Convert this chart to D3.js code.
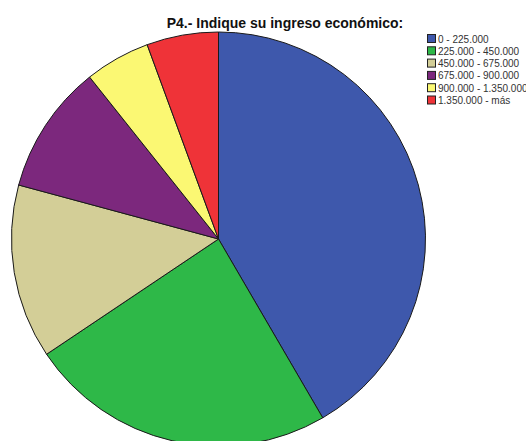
<!DOCTYPE html>
<html><head><meta charset="utf-8">
<script src="https://cdn.jsdelivr.net/npm/d3@7"></script>
<style>html,body{margin:0;padding:0;background:#fff;overflow:hidden}</style>
</head><body>
<svg id="c" width="526" height="441"></svg>
<script>
const categories = ["0 - 225.000","225.000 - 450.000","450.000 - 675.000","675.000 - 900.000","900.000 - 1.350.000","1.350.000 - más"];
const values = [41.6, 24.0, 13.6, 10.1, 5.1, 5.6];
const colors = ["#3E58AC","#2EB848","#D3CE97","#7C287D","#FBF873","#EF3338"];
const title = "P4.- Indique su ingreso económico:";

const svg = d3.select("#c");
const cx = 218.5, cy = 239, r = 207;
const pie = d3.pie().sort(null).value(d => d)(values);
const arc = d3.arc().innerRadius(0).outerRadius(r);
svg.append("g").attr("transform", `translate(${cx},${cy})`)
  .selectAll("path").data(pie).join("path")
  .attr("d", arc).attr("fill", (d,i) => colors[i])
  .attr("stroke", "#1a1a1a").attr("stroke-width", 1);

svg.append("text").attr("x", 285).attr("y", 27.5).attr("text-anchor","middle")
  .attr("font-family","Liberation Sans, Arial, sans-serif").attr("font-weight","bold")
  .attr("font-size", 14).attr("fill","#111").text(title);

const lg = svg.append("g").attr("transform","translate(427,34)");
const row = lg.selectAll("g").data(categories).join("g")
  .attr("transform",(d,i)=>`translate(0,${i*12.3})`);
row.append("rect").attr("x",0.5).attr("y",0.5).attr("width",8).attr("height",8)
  .attr("fill",(d,i)=>colors[i]).attr("stroke","#222").attr("stroke-width",1);
row.append("text").attr("x",11).attr("y",8.5)
  .attr("font-family","Liberation Sans, Arial, sans-serif").attr("font-size",10)
  .attr("fill","#333").text(d=>d);
</script>
</body></html>
